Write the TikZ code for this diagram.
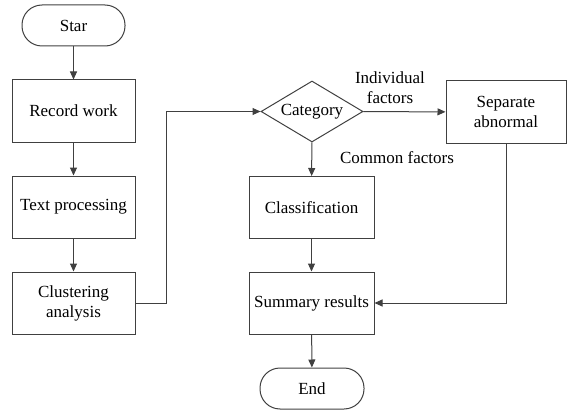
\documentclass[tikz,border=0pt]{standalone}
\usepackage{fontspec}
\setmainfont{Liberation Serif}
\usetikzlibrary{shapes.geometric,arrows.meta}
\definecolor{linegray}{HTML}{404040}
\tikzset{
  stepbox/.style={draw=linegray,line width=1pt,rectangle,minimum width=123pt,minimum height=62pt,align=center,inner sep=2pt},
  pill/.style={draw=linegray,line width=1pt,rectangle,rounded corners=20pt,minimum width=103pt,minimum height=41pt},
  decide/.style={draw=linegray,line width=1pt,diamond,aspect=1.67,inner sep=0pt,minimum width=102pt,minimum height=61pt},
  flow/.style={draw=linegray,line width=1pt,-{Triangle[length=8pt,width=7pt]}}
}
\begin{document}
\begin{tikzpicture}[x=1pt,y=-1pt,font=\fontsize{17}{20}\selectfont]
  \useasboundingbox (0,0) rectangle (568,412);
  \draw
    (73.5,25.5) node[pill] (star){Star}
    (73.5,111) node[stepbox] (record){Record work}
    (73.5,207) node[stepbox] (text){Text processing}
    (73.5,303) node[stepbox] (cluster){Clustering\\analysis}
    (312,111.5) node[decide] (category){Category}
    (506,112) node[stepbox,minimum width=120pt] (separate){Separate\\abnormal}
    (311.5,207.5) node[stepbox,minimum width=125pt] (classify){Classification}
    (311.5,303) node[stepbox,minimum width=125pt] (summary){Summary results}
    (312,388.5) node[pill,minimum width=104pt] (end){End};
  \node (individual) at (390,88) [align=center] {Individual\\factors};
  \node (common) at (397,158) {Common factors};
  \begin{scope}[flow]
    \draw (star) to (record);
    \draw (record) to (text);
    \draw (text) to (cluster);
    \draw (cluster.east) -- ++(31,0) |- (category.west);
    \draw (category) to (separate);
    \draw (category) to (classify);
    \draw (classify) to (summary);
    \draw (separate.south) |- (summary.east);
    \draw (summary) to (end);
  \end{scope}
\end{tikzpicture}
\end{document}
